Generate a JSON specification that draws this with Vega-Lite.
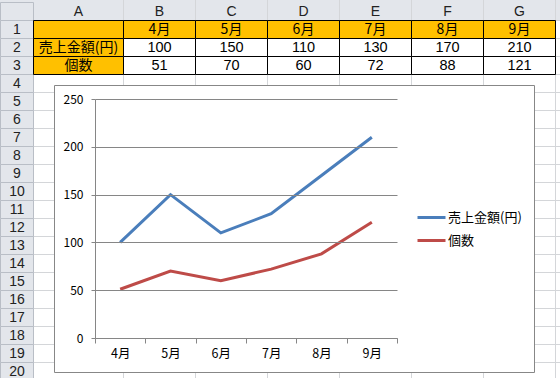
{
  "$schema": "https://vega.github.io/schema/vega-lite/v6.json",
  "width": 560,
  "height": 378,
  "autosize": {"type": "none"},
  "padding": 0,
  "background": "white",
  "config": {"view": {"stroke": null}, "font": "Noto Sans CJK JP"},
  "datasets": {
    "sales": [
      {"month": "4月", "series": "売上金額(円)", "value": 100},
      {"month": "5月", "series": "売上金額(円)", "value": 150},
      {"month": "6月", "series": "売上金額(円)", "value": 110},
      {"month": "7月", "series": "売上金額(円)", "value": 130},
      {"month": "8月", "series": "売上金額(円)", "value": 170},
      {"month": "9月", "series": "売上金額(円)", "value": 210},
      {"month": "4月", "series": "個数", "value": 51},
      {"month": "5月", "series": "個数", "value": 70},
      {"month": "6月", "series": "個数", "value": 60},
      {"month": "7月", "series": "個数", "value": 72},
      {"month": "8月", "series": "個数", "value": 88},
      {"month": "9月", "series": "個数", "value": 121}
    ],
    "months": [{"month": "4月"}, {"month": "5月"}, {"month": "6月"}, {"month": "7月"}, {"month": "8月"}, {"month": "9月"}],
    "cols": [{"col": "B"}, {"col": "C"}, {"col": "D"}, {"col": "E"}, {"col": "F"}, {"col": "G"}, {"col": "H"}],
    "rows": [{"row": "1"}, {"row": "2"}, {"row": "3"}, {"row": "4"}, {"row": "5"}, {"row": "6"}, {"row": "7"}, {"row": "8"}, {"row": "9"}, {"row": "10"}, {"row": "11"}, {"row": "12"}, {"row": "13"}, {"row": "14"}, {"row": "15"}, {"row": "16"}, {"row": "17"}, {"row": "18"}, {"row": "19"}, {"row": "20"}],
    "rowheads": [{"row": "hdr"}, {"row": "1"}, {"row": "2"}, {"row": "3"}, {"row": "4"}, {"row": "5"}, {"row": "6"}, {"row": "7"}, {"row": "8"}, {"row": "9"}, {"row": "10"}, {"row": "11"}, {"row": "12"}, {"row": "13"}, {"row": "14"}, {"row": "15"}, {"row": "16"}, {"row": "17"}, {"row": "18"}, {"row": "19"}, {"row": "20"}]
  },
  "resolve": {"scale": {"x": "independent", "y": "independent", "color": "independent"}},
  "layer": [
    {
      "data": {"values": [{"band": "hdr"}]},
      "mark": {"type": "rect", "fill": "#E3E6EB"},
      "encoding": {
        "y": {"field": "band", "type": "nominal", "scale": {"type": "band", "domain": ["hdr"], "range": [0, 20.5], "paddingInner": 0, "paddingOuter": 0}, "axis": null}
      }
    },
    {
      "data": {"name": "cols"},
      "mark": {"type": "rule", "color": "#D4D6D9", "strokeWidth": 1},
      "encoding": {
        "x": {"field": "col", "type": "nominal", "bandPosition": 0, "scale": {"type": "band", "domain": ["B", "C", "D", "E", "F", "G", "H"], "range": [123.5, 627.5], "paddingInner": 0, "paddingOuter": 0}, "axis": null}
      }
    },
    {
      "data": {"name": "rows"},
      "mark": {"type": "rule", "color": "#D4D6D9", "strokeWidth": 1},
      "encoding": {
        "y": {"field": "row", "type": "nominal", "bandPosition": 0, "scale": {"type": "band", "domain": ["1", "2", "3", "4", "5", "6", "7", "8", "9", "10", "11", "12", "13", "14", "15", "16", "17", "18", "19", "20"], "range": [20.5, 380.5], "paddingInner": 0, "paddingOuter": 0}, "axis": null}
      }
    },
    {
      "data": {"name": "rowheads"},
      "encoding": {
        "x": {"datum": "rn", "type": "nominal", "bandPosition": 0, "scale": {"type": "band", "domain": ["rn"], "range": [0.5, 33.5], "paddingInner": 0, "paddingOuter": 0}, "axis": null},
        "y": {"field": "row", "type": "nominal", "bandPosition": 0, "scale": {"type": "band", "domain": ["hdr", "1", "2", "3", "4", "5", "6", "7", "8", "9", "10", "11", "12", "13", "14", "15", "16", "17", "18", "19", "20"], "range": [2.5, 380.5], "paddingInner": 0, "paddingOuter": 0}, "axis": null}
      },
      "layer": [
        {"mark": {"type": "rect", "fill": "#E3E6EB", "stroke": "#B9BEC6", "strokeWidth": 1}},
        {
          "transform": [{"filter": "datum.row !== 'hdr'"}],
          "mark": {"type": "text", "font": "Liberation Sans", "fontSize": 14, "color": "#222222", "align": "center", "baseline": "middle"},
          "encoding": {
            "x": {"datum": "rn", "type": "nominal", "bandPosition": 0.5},
            "y": {"field": "row", "type": "nominal", "bandPosition": 0.5},
            "text": {"field": "row"}
          }
        }
      ]
    },
    {
      "data": {"values": [{"col": "A"}]},
      "mark": {"type": "text", "font": "Liberation Sans", "fontSize": 14, "color": "#222222", "align": "center", "baseline": "middle"},
      "encoding": {
        "x": {"field": "col", "type": "nominal", "bandPosition": 0.5, "scale": {"type": "band", "domain": ["A"], "range": [33.5, 123.5], "paddingInner": 0, "paddingOuter": 0}, "axis": null},
        "y": {"datum": "hdr", "type": "nominal", "bandPosition": 0.5, "scale": {"type": "band", "domain": ["hdr"], "range": [2.5, 20.5], "paddingInner": 0, "paddingOuter": 0}, "axis": null},
        "text": {"field": "col"}
      }
    },
    {
      "data": {"name": "cols"},
      "transform": [{"filter": "datum.col !== 'H'"}],
      "mark": {"type": "text", "font": "Liberation Sans", "fontSize": 14, "color": "#222222", "align": "center", "baseline": "middle"},
      "encoding": {
        "x": {"field": "col", "type": "nominal", "bandPosition": 0.5, "scale": {"type": "band", "domain": ["B", "C", "D", "E", "F", "G", "H"], "range": [123.5, 627.5], "paddingInner": 0, "paddingOuter": 0}, "axis": null},
        "y": {"datum": "hdr", "type": "nominal", "bandPosition": 0.5, "scale": {"type": "band", "domain": ["hdr"], "range": [2.5, 20.5], "paddingInner": 0, "paddingOuter": 0}, "axis": null},
        "text": {"field": "col"}
      }
    },
    {
      "data": {"values": [{"row": "1", "label": ""}, {"row": "2", "label": "売上金額(円)"}, {"row": "3", "label": "個数"}]},
      "encoding": {
        "x": {"datum": "A", "type": "nominal", "bandPosition": 0, "scale": {"type": "band", "domain": ["A"], "range": [33.5, 123.5], "paddingInner": 0, "paddingOuter": 0}, "axis": null},
        "y": {"field": "row", "type": "nominal", "bandPosition": 0, "scale": {"type": "band", "domain": ["1", "2", "3"], "range": [20.5, 74.5], "paddingInner": 0, "paddingOuter": 0}, "axis": null}
      },
      "layer": [
        {"mark": {"type": "rect", "fill": "#FFC000", "stroke": "#000000", "strokeWidth": 1}},
        {
          "mark": {"type": "text", "fontSize": 14, "color": "#000000", "align": "center", "baseline": "middle"},
          "encoding": {
            "x": {"datum": "A", "type": "nominal", "bandPosition": 0.5},
            "y": {"field": "row", "type": "nominal", "bandPosition": 0.5},
            "text": {"field": "label"}
          }
        }
      ]
    },
    {
      "data": {"name": "months"},
      "encoding": {
        "x": {"field": "month", "type": "nominal", "bandPosition": 0, "scale": {"type": "band", "domain": ["4月", "5月", "6月", "7月", "8月", "9月"], "range": [123.5, 555.5], "paddingInner": 0, "paddingOuter": 0}, "axis": null},
        "y": {"datum": "1", "type": "nominal", "bandPosition": 0, "scale": {"type": "band", "domain": ["1"], "range": [20.5, 38.5], "paddingInner": 0, "paddingOuter": 0}, "axis": null}
      },
      "layer": [
        {"mark": {"type": "rect", "fill": "#FFC000", "stroke": "#000000", "strokeWidth": 1}},
        {
          "mark": {"type": "text", "fontSize": 14, "color": "#000000", "align": "center", "baseline": "middle"},
          "encoding": {
            "x": {"field": "month", "type": "nominal", "bandPosition": 0.5},
            "y": {"datum": "1", "type": "nominal", "bandPosition": 0.5},
            "text": {"field": "month"}
          }
        }
      ]
    },
    {
      "data": {"name": "sales"},
      "encoding": {
        "x": {"field": "month", "type": "nominal", "bandPosition": 0, "scale": {"type": "band", "domain": ["4月", "5月", "6月", "7月", "8月", "9月"], "range": [123.5, 555.5], "paddingInner": 0, "paddingOuter": 0}, "axis": null},
        "y": {"field": "series", "type": "nominal", "bandPosition": 0, "scale": {"type": "band", "domain": ["売上金額(円)", "個数"], "range": [38.5, 74.5], "paddingInner": 0, "paddingOuter": 0}, "axis": null}
      },
      "layer": [
        {"mark": {"type": "rect", "fill": "#FFFFFF", "stroke": "#000000", "strokeWidth": 1}},
        {
          "mark": {"type": "text", "font": "Liberation Sans", "fontSize": 14.5, "color": "#000000", "align": "center", "baseline": "middle"},
          "encoding": {
            "x": {"field": "month", "type": "nominal", "bandPosition": 0.5},
            "y": {"field": "series", "type": "nominal", "bandPosition": 0.5},
            "text": {"field": "value", "type": "quantitative"}
          }
        }
      ]
    },
    {
      "data": {"values": [{"part": "chart"}]},
      "mark": {"type": "rect", "fill": "#FFFFFF", "stroke": "#878787", "strokeWidth": 1},
      "encoding": {
        "x": {"field": "part", "type": "nominal", "bandPosition": 0, "scale": {"type": "band", "domain": ["chart"], "range": [54.5, 534.5], "paddingInner": 0, "paddingOuter": 0}, "axis": null},
        "y": {"field": "part", "type": "nominal", "bandPosition": 0, "scale": {"type": "band", "domain": ["chart"], "range": [85.5, 372.5], "paddingInner": 0, "paddingOuter": 0}, "axis": null}
      }
    },
    {
      "data": {"name": "sales"},
      "mark": {"type": "line", "strokeWidth": 3},
      "encoding": {
        "x": {
          "field": "month", "type": "nominal", "bandPosition": 0.5,
          "scale": {"type": "band", "domain": ["4月", "5月", "6月", "7月", "8月", "9月"], "range": [95, 397], "paddingInner": 0, "paddingOuter": 0},
          "axis": {"orient": "bottom", "offset": -40, "zindex": 1, "title": null, "labelAngle": 0, "grid": false, "tickBand": "extent", "domainColor": "#868686", "tickColor": "#868686", "tickSize": 5, "labelFontSize": 12.5, "labelColor": "#000000", "labelPadding": 4, "labelFont": "Noto Sans CJK JP"}
        },
        "y": {
          "field": "value", "type": "quantitative",
          "scale": {"domain": [0, 250], "range": [338, 99], "nice": false, "zero": true},
          "axis": {"orient": "left", "offset": -95, "zindex": 1, "title": null, "values": [0, 50, 100, 150, 200, 250], "grid": true, "gridColor": "#868686", "gridOpacity": 1, "domainColor": "#868686", "tickColor": "#868686", "tickSize": 4, "labelPadding": 8, "labelFontSize": 12, "labelColor": "#000000", "labelFont": "Noto Sans CJK JP"}
        },
        "color": {
          "field": "series", "type": "nominal",
          "scale": {"domain": ["売上金額(円)", "個数"], "range": ["#4A7EBB", "#BE4B48"]},
          "legend": {"orient": "none", "legendX": 416, "legendY": 202, "title": null, "symbolType": "stroke", "symbolSize": 784, "symbolStrokeWidth": 3, "labelFontSize": 13, "labelFont": "Noto Sans CJK JP", "labelColor": "#000000", "labelOffset": 1, "rowPadding": -3, "padding": 0}
        }
      }
    }
  ]
}
